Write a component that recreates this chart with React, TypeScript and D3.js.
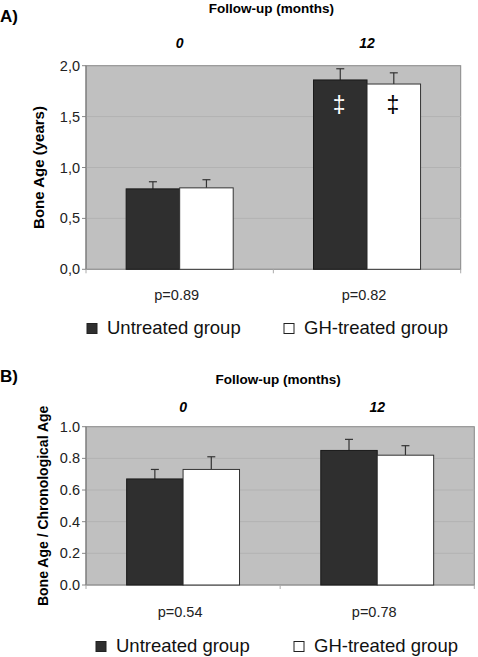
import React from "react";
import * as d3 from "d3";

const categories = ["0", "12"];
const seriesNames = ["Untreated group", "GH-treated group"];

// Panel A: Bone age (years)
const boneAgeUntreated = [0.79, 1.86];
const boneAgeUntreatedErr = [0.07, 0.11];
const boneAgeGH = [0.8, 1.82];
const boneAgeGHErr = [0.08, 0.11];
const boneAgePValues = ["p=0.89", "p=0.82"];
const boneAgeMarks = ["", "‡"];
const boneAgeTicks = [0, 0.5, 1, 1.5, 2];

// Panel B: Bone age / chronological age
const ratioUntreated = [0.67, 0.85];
const ratioUntreatedErr = [0.06, 0.07];
const ratioGH = [0.73, 0.82];
const ratioGHErr = [0.08, 0.06];
const ratioPValues = ["p=0.54", "p=0.78"];
const ratioTicks = [0, 0.2, 0.4, 0.6, 0.8, 1.0];

const FONT = "'Liberation Sans', Arial, Helvetica, sans-serif";
const BG = "#c0c0c0";
const DARK = "#2f2f2f";

type PanelProps = {
  label: string;
  labelY: number;
  left: number;
  right: number;
  top: number;
  bottom: number;
  yMax: number;
  ticks: number[];
  tickFormat: (v: number) => string;
  untreated: number[];
  untreatedErr: number[];
  gh: number[];
  ghErr: number[];
  pValues: string[];
  marks?: string[];
  markValue?: number;
  titleY: number;
  catY: number;
  yLabel: string;
  yLabelX: number;
  yLabelSize: number;
  pY: number;
  legendY: number;
  legendX: [number, number];
  outerPad: number;
};

function Panel(p: PanelProps) {
  const x0 = d3.scaleBand<string>().domain(categories).range([p.left, p.right]).padding(0);
  const x1 = d3
    .scaleBand<string>()
    .domain(seriesNames)
    .range([0, x0.bandwidth()])
    .paddingInner(0)
    .paddingOuter(p.outerPad);
  const y = d3.scaleLinear().domain([0, p.yMax]).range([p.bottom, p.top]);
  const values = [p.untreated, p.gh];
  const errs = [p.untreatedErr, p.ghErr];
  const fills = [DARK, "#ffffff"];
  const strokes = ["#1a1a1a", "#333333"];
  const midX = (p.left + p.right) / 2;
  return (
    <g>
      <text x={0} y={p.labelY} fontFamily={FONT} fontWeight="bold" fontSize={17}>
        {p.label}
      </text>
      <text x={midX - 2} y={p.titleY} fontFamily={FONT} fontWeight="bold" fontSize={13.5} textAnchor="middle">
        Follow-up (months)
      </text>
      {categories.map((c) => (
        <text
          key={c}
          x={(x0(c) ?? 0) + x0.bandwidth() / 2}
          y={p.catY}
          fontFamily={FONT}
          fontWeight="bold"
          fontStyle="italic"
          fontSize={14}
          textAnchor="middle"
        >
          {c}
        </text>
      ))}
      <rect x={p.left} y={p.top} width={p.right - p.left} height={p.bottom - p.top} fill={BG} stroke="#888888" strokeWidth={1} />
      {p.ticks.map((t) => (
        <g key={t}>
          {t > 0 && t < p.yMax && (
            <line x1={p.left} x2={p.right} y1={y(t)} y2={y(t)} stroke="#b2b2b2" strokeWidth={1} />
          )}
          <line x1={p.left - 4} x2={p.left} y1={y(t)} y2={y(t)} stroke="#888888" />
          <text
            x={p.left - 6}
            y={y(t)}
            dy="0.35em"
            fontFamily={FONT}
            fontSize={14.5}
            textAnchor="end"
            fill="#222"
          >
            {p.tickFormat(t)}
          </text>
        </g>
      ))}
      <line x1={p.left} x2={p.left} y1={p.top} y2={p.bottom} stroke="#777777" />
      <line x1={p.left} x2={p.right} y1={p.bottom} y2={p.bottom} stroke="#999999" />
      {[p.left, x0(categories[1]) ?? 0, p.right].map((tx, i) => (
        <line key={i} x1={tx} x2={tx} y1={p.bottom} y2={p.bottom + 4} stroke="#aaaaaa" />
      ))}
      {categories.map((c, ci) =>
        seriesNames.map((s, si) => {
          const bx = (x0(c) ?? 0) + (x1(s) ?? 0);
          const bw = x1.bandwidth();
          const v = values[si][ci];
          const e = errs[si][ci];
          const cx = bx + bw / 2;
          return (
            <g key={c + s}>
              <line x1={cx} x2={cx} y1={y(v)} y2={y(v + e)} stroke="#333" strokeWidth={1.2} />
              <line x1={cx - 4} x2={cx + 4} y1={y(v + e)} y2={y(v + e)} stroke="#333" strokeWidth={1.2} />
              <rect x={bx} y={y(v)} width={bw} height={p.bottom - y(v)} fill={fills[si]} stroke={strokes[si]} strokeWidth={1} />
              {p.marks && p.marks[ci] && (
                <text
                  x={cx - 1}
                  y={y(p.markValue ?? 0)}
                  dy="0.3em"
                  fontFamily={FONT}
                  fontSize={23}
                  textAnchor="middle"
                  fill={si === 0 ? "#ffffff" : "#000000"}
                >
                  {p.marks[ci]}
                </text>
              )}
            </g>
          );
        })
      )}
      <text
        transform={`translate(${p.yLabelX},${(p.top + p.bottom) / 2}) rotate(-90)`}
        fontFamily={FONT}
        fontWeight="bold"
        fontSize={p.yLabelSize}
        textAnchor="middle"
      >
        {p.yLabel}
      </text>
      {categories.map((c, ci) => (
        <text
          key={c}
          x={(x0(c) ?? 0) + x0.bandwidth() / 2 - 3}
          y={p.pY}
          fontFamily={FONT}
          fontSize={14.5}
          textAnchor="middle"
          fill="#222"
        >
          {p.pValues[ci]}
        </text>
      ))}
      {seriesNames.map((s, si) => (
        <g key={s}>
          <rect x={p.legendX[si]} y={p.legendY - 10} width={10} height={10} fill={fills[si]} stroke="#222" strokeWidth={1} />
          <text x={p.legendX[si] + 20} y={p.legendY} fontFamily={FONT} fontSize={18.5} fill="#111">
            {s}
          </text>
        </g>
      ))}
    </g>
  );
}

export default function App() {
  const commaFmt = (v: number) => d3.format(".1f")(v).replace(".", ",");
  const dotFmt = (v: number) => d3.format(".1f")(v);
  return (
    <div style={{ position: "absolute", left: 0, top: 0 }}>
      <svg width={478} height={657} style={{ display: "block", background: "#ffffff" }}>
        <Panel
          label="A)"
          labelY={22}
          left={86}
          right={460.7}
          top={65.7}
          bottom={269.3}
          yMax={2}
          ticks={boneAgeTicks}
          tickFormat={commaFmt}
          untreated={boneAgeUntreated}
          untreatedErr={boneAgeUntreatedErr}
          gh={boneAgeGH}
          ghErr={boneAgeGHErr}
          pValues={boneAgePValues}
          marks={boneAgeMarks}
          markValue={1.6}
          titleY={13}
          catY={48}
          yLabel="Bone Age (years)"
          yLabelX={44}
          yLabelSize={15}
          pY={299.5}
          legendY={333.5}
          legendX={[87, 284]}
          outerPad={0.75}
        />
        <Panel
          label="B)"
          labelY={381.5}
          left={86}
          right={474.3}
          top={426.7}
          bottom={585}
          yMax={1}
          ticks={ratioTicks}
          tickFormat={dotFmt}
          untreated={ratioUntreated}
          untreatedErr={ratioUntreatedErr}
          gh={ratioGH}
          ghErr={ratioGHErr}
          pValues={ratioPValues}
          titleY={383.5}
          catY={411.5}
          yLabel="Bone Age / Chronological Age"
          yLabelX={47.5}
          yLabelSize={14}
          pY={617}
          legendY={651.5}
          legendX={[96, 294]}
          outerPad={0.72}
        />
      </svg>
    </div>
  );
}
